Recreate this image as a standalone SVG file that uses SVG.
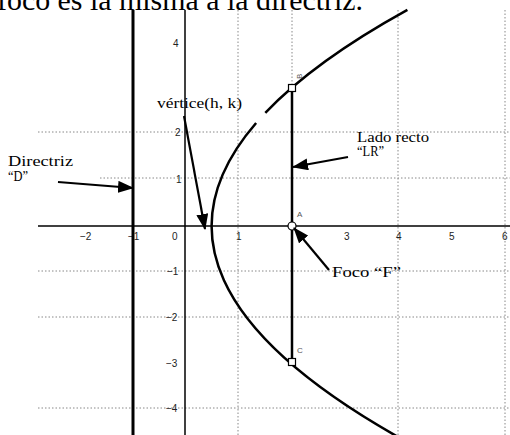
<svg xmlns="http://www.w3.org/2000/svg" width="510" height="435" viewBox="0 0 510 435">
<style>
.grid{stroke:#888;stroke-width:1;stroke-dasharray:1.5 2;fill:none}
.axis{stroke:#000;stroke-width:1.5;fill:none}
.tick{font-family:"Liberation Sans",Arial,sans-serif;font-size:10px;fill:#222}
.lbl{font-family:"Liberation Serif","Times New Roman",serif;font-size:14px;fill:#000}
.pt{font-family:"Liberation Sans",Arial,sans-serif;font-size:8px;fill:#555}
.arr{stroke:#000;stroke-width:2.2;fill:none;marker-end:url(#ah)}
</style>
<defs>
<marker id="ah" markerUnits="userSpaceOnUse" markerWidth="16" markerHeight="12" refX="15" refY="6" orient="auto">
<path d="M0,0 L16,6 L0,12 Z" fill="#000"/>
</marker>
</defs>
<rect width="510" height="435" fill="#fff"/>
<text x="-3" y="10" font-family="Liberation Serif,'Times New Roman',serif" font-size="30" textLength="366" lengthAdjust="spacingAndGlyphs">foco es la misma a la directriz.</text>
<g id="grid">
<line class="grid" x1="238" y1="10" x2="238" y2="435"/>
<line class="grid" x1="292" y1="10" x2="292" y2="88"/>
<line class="grid" x1="398" y1="10" x2="398" y2="435"/>
<line class="grid" x1="505" y1="10" x2="505" y2="435"/>
<line class="grid" x1="38" y1="132" x2="510" y2="132"/>
<line class="grid" x1="100" y1="178" x2="510" y2="178"/>
<line class="grid" x1="38" y1="271" x2="510" y2="271"/>
<line class="grid" x1="38" y1="317" x2="510" y2="317"/>
<line class="grid" x1="38" y1="408" x2="510" y2="408"/>
</g>
<g id="axes">
<line class="axis" x1="38" y1="226" x2="510" y2="226"/>
<line class="axis" x1="185" y1="10" x2="185" y2="435"/>
<text class="tick" x="80" y="240">−2</text>
<text class="tick" x="128" y="240">−1</text>
<text class="tick" x="172" y="240">0</text>
<text class="tick" x="236" y="240">1</text>
<text class="tick" x="344" y="240">3</text>
<text class="tick" x="396" y="240">4</text>
<text class="tick" x="449" y="240">5</text>
<text class="tick" x="502" y="240">6</text>
<text class="tick" x="173" y="47">4</text>
<text class="tick" x="175" y="136">2</text>
<text class="tick" x="176" y="183">1</text>
<text class="tick" x="167" y="275">−1</text>
<text class="tick" x="166" y="321">−2</text>
<text class="tick" x="166" y="367">−3</text>
<text class="tick" x="166" y="412">−4</text>
</g>
<g id="directriz">
<line x1="133" y1="10" x2="133" y2="435" stroke="#000" stroke-width="3"/>
</g>
<g id="parabola">
<path d="M399.2,437.6 Q120.2,280.3 256.1,123" fill="none" stroke="#000" stroke-width="2.5"/>
<path d="M265.3,112.8 Q314.1,61.3 407.4,9.8" fill="none" stroke="#000" stroke-width="2.5"/>
</g>
<g id="lado-recto">
<line x1="292" y1="88" x2="292" y2="362" stroke="#000" stroke-width="2.5"/>
</g>
<g id="puntos">
<rect x="288.5" y="84.5" width="7" height="7" fill="#fff" stroke="#000" stroke-width="1.2"/>
<circle cx="292" cy="226" r="4" fill="#fff" stroke="#000" stroke-width="1.2"/>
<rect x="288.5" y="358.5" width="7" height="7" fill="#fff" stroke="#000" stroke-width="1.2"/>
<text class="pt" x="296" y="79" transform="rotate(-90 299 76)">B</text>
<text class="pt" x="297" y="217">A</text>
<text class="pt" x="297" y="353">C</text>
</g>
<g id="connectors">
<line class="arr" x1="58" y1="182" x2="133" y2="188"/>
<line class="arr" x1="184" y1="116" x2="205" y2="229"/>
<line class="arr" x1="348" y1="157" x2="293" y2="167"/>
<line class="arr" x1="329" y1="270" x2="294" y2="228"/>
</g>
<g id="labels">
<text class="lbl" x="157" y="108" textLength="85" lengthAdjust="spacingAndGlyphs">vértice(h, k)</text>
<text class="lbl" x="8" y="166" textLength="65" lengthAdjust="spacingAndGlyphs">Directriz</text>
<text class="lbl" x="8" y="181" textLength="20" lengthAdjust="spacingAndGlyphs">“D”</text>
<text class="lbl" x="357" y="142" textLength="72" lengthAdjust="spacingAndGlyphs">Lado recto</text>
<text class="lbl" x="357" y="156" textLength="27" lengthAdjust="spacingAndGlyphs">“LR”</text>
<text class="lbl" x="332" y="277" textLength="69" lengthAdjust="spacingAndGlyphs">Foco  “F”</text>
</g>
</svg>
